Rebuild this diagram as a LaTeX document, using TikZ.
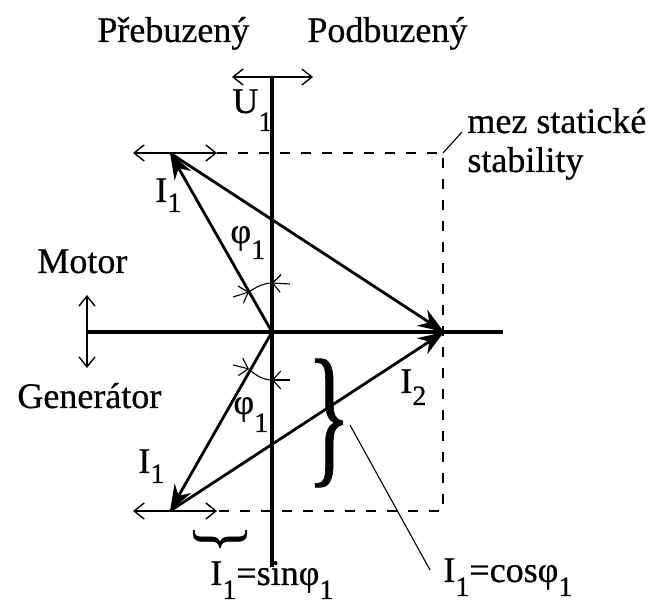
\documentclass[tikz,border=0pt]{standalone}
\usepackage{fontspec}
\setmainfont[FakeBold=0.6]{Liberation Serif}
\usetikzlibrary{arrows.meta}
\newcommand\mysub[2][6]{\raisebox{-#1pt}{\fontsize{14}{14}\selectfont #2}}
\begin{document}
\begin{tikzpicture}[x=0.5pt,y=-0.5pt,
  axis/.style={line width=1.8pt},
  vec/.style={line width=1.4pt,-{Stealth[length=13pt,width=9.5pt]}},
  dbl/.style={line width=1.3pt,{Straight Barb[length=5pt,width=8pt,line width=0.7pt]}-{Straight Barb[length=5pt,width=8pt,line width=0.7pt]}},
  dsh/.style={line width=0.9pt,dash pattern=on 5pt off 5.5pt},
  thinline/.style={line width=0.55pt},
  angarr/.style={line width=0.55pt,-{Straight Barb[length=4pt,width=9pt,line width=0.55pt]}},
  lbl/.style={inner sep=0pt,anchor=base west,font=\fontsize{18}{21}\selectfont}]
\useasboundingbox (0,0) rectangle (653,613);
% coordinates
\coordinate (O) at (272,332);
\coordinate (Ut) at (272,77);
\coordinate (Ub) at (272,567);
\coordinate (Hl) at (87,332);
\coordinate (Hr) at (503,332);
\coordinate (A) at (170,153);
\coordinate (B) at (170,511);
\coordinate (C) at (444,332);
\coordinate (TL) at (133,153);
\coordinate (TR) at (217,153);
\coordinate (BL) at (133,511);
\coordinate (BR) at (217,511);
\coordinate (DTR) at (443,153);
\coordinate (DBR) at (443,511);
\coordinate (UL) at (232,77);
\coordinate (UR) at (313,77);
\coordinate (MT) at (87,295);
\coordinate (MB) at (87,368);
\coordinate (Lm) at (462,132);
% axes
\draw[axis] (Ut) -- (Ub);
\draw[axis] (Hl) -- (Hr);
% double arrows
\draw[dbl] (UL) -- (UR);
\draw[dbl] (TL) -- (TR);
\draw[dbl] (BL) -- (BR);
\draw[dbl] (MT) -- (MB);
% dashed stability limit
\draw[dsh] (TR) -- (DTR) -- (DBR) -- (BR);
\draw[thinline] (DTR) -- (Lm);
% vectors
\draw[vec] (O) -- (A);
\draw[vec] (O) -- (B);
\draw[vec] (A) -- (C);
\draw[vec] (B) -- (C);
% angle marks
\coordinate (a1) at (272,283);
\coordinate (a2) at (249,292);
\coordinate (b1) at (272,380);
\coordinate (b2) at (249,369);
\draw[thinline] (a1) .. controls (264,283) and (256,287) .. (a2);
\draw[thinline] (b1) .. controls (264,380) and (256,376) .. (b2);
\coordinate (a1o) at (290,284);
\coordinate (a2o) at (233,297);
\coordinate (b1o) at (290,380);
\coordinate (b2o) at (233,365);
\draw[angarr] (a1o) -- (a1);
\draw[angarr] (a2o) -- (a2);
\draw[angarr] (b1o) -- (b1);
\draw[angarr] (b2o) -- (b2);
% braces
\node[inner sep=0pt] (br) at (329,423) {\fontsize{18}{21}\selectfont\scalebox{2.6}[4.3]{\}}};
\node[inner sep=0pt] (sbr) at (220,539) {\fontsize{18}{21}\selectfont\rotatebox{-90}{\scalebox{1.6}[1.8]{\}}}};
\coordinate (brt) at (350,425);
\coordinate (lce) at (430,570);
\draw[thinline] (brt) -- (lce);
% labels
\node[lbl] (t1) at (97,42) {Přebuzený};
\node[lbl] (t2) at (307,42) {Podbuzený};
\node[lbl] (u1) at (232,113) {U\mysub[9]{1}};
\node[lbl] (m1) at (467,133) {mez statické};
\node[lbl] (m2) at (467,172) {stability};
\node[lbl] (mo) at (37,273) {Motor};
\node[lbl] (ge) at (17,408) {Generátor};
\node[lbl] (i1a) at (155,202) {I\mysub[5]{1}};
\node[lbl] (p1a) at (230,243) {φ\mysub[8]{1}};
\node[lbl] (p1b) at (233,414) {φ\mysub[9]{1}};
\node[lbl] (i1b) at (138,473) {I\mysub[5]{1}};
\node[lbl] (i2) at (400,393) {I\mysub[6]{2}};
\node[lbl] (sn) at (210,585) {I\mysub[7]{1}=sinφ\mysub[7]{1}};
\node[lbl] (cs) at (443,582) {I\mysub[7]{1}=cosφ\mysub[7]{1}};
\end{tikzpicture}
\end{document}
